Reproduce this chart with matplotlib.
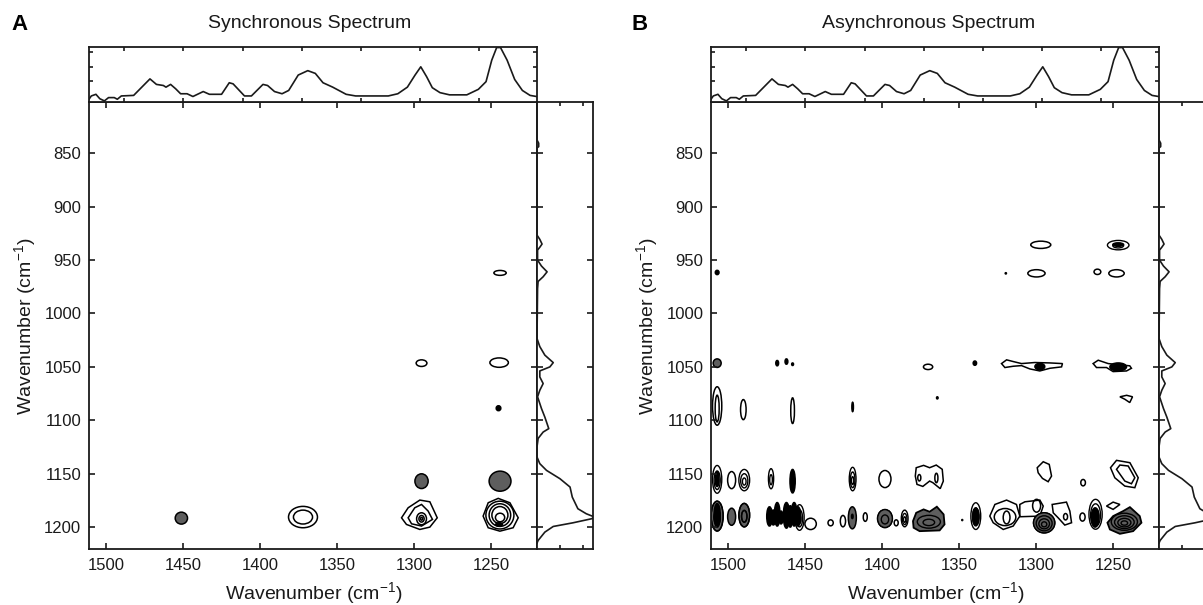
"""
2D correlation spectra: synchronous (A) and asynchronous (B).
"""
import matplotlib
matplotlib.use('Agg')
import matplotlib.pyplot as plt
from matplotlib.patches import Ellipse

plt.rcParams['font.family'] = ['Liberation Sans', 'DejaVu Sans']
plt.rcParams['mathtext.default'] = 'regular'

W, H = 1203, 605
INK = '#1a1a1a'
GRAY = '#5e5e5e'

# Mean spectrum shown on the top strip
top_wn = [1511, 1509.5, 1506.5, 1504, 1501, 1498.3, 1494.6, 1492.6, 1490, 1482, 1476, 1471.4,
          1467.2, 1462.7, 1461, 1458, 1454.7, 1451.5, 1447.3, 1443.5, 1436.8, 1432.8, 1424.9,
          1419.9, 1417.4, 1410, 1405.5, 1398, 1395, 1390.5, 1385.6, 1381.3, 1375.1, 1368.9,
          1364, 1359, 1352.7, 1344, 1337.8, 1316.6, 1310.4, 1304.2, 1299.2, 1295.5, 1291.7,
          1288, 1283, 1276.8, 1265.6, 1258.1, 1253.1, 1249.4, 1246.2, 1243.7, 1239.4, 1234.5,
          1229.5, 1224.5, 1220.3]
top_int = [.05, .11, .14, .06, .02, .08, .08, .05, .11, .12, .29, .42,
           .32, .30, .27, .32, .24, .15, .15, .10, .19, .14, .14,
           .35, .33, .11, .11, .32, .30, .19, .15, .21, .49, .57,
           .52, .35, .27, .14, .11, .11, .15, .27, .49, .64, .46,
           .26, .17, .13, .13, .23, .37, .76, .99, .99, .76, .41,
           .21, .12, .10]

# Spectrum shown on the right strip
side_wn = [802, 837.5, 840.6, 843.8, 845, 926.6, 930.6, 935, 938, 940.6, 950, 955.6, 961, 965.6,
           970, 976.6, 1023.4, 1031, 1039, 1046, 1050, 1053.8, 1059.4, 1065.6, 1071.9, 1078,
           1089, 1097, 1107.8, 1111, 1117, 1125, 1134.4, 1140.6, 1146.9, 1154.7, 1162.5, 1171.9,
           1182.8, 1187.5, 1190, 1192, 1196, 1199.4, 1204.7, 1212.5, 1215]
side_int = [0, 0, .03, .03, 0, 0, .05, .09, .05, .01, .01, .08, .18, .11,
            .02, .01, 0, .05, .14, .29, .23, .05, .05, .11, .05, .01,
            .08, .14, .21, .11, .02, 0, 0, .05, .17, .41, .59, .63,
            .73, .88, 1.0, .99, .64, .29, .14, .02, 0]

# Contour peaks: (x wavenumber, y wavenumber, half width, half height)
a_open = [(1295, 1046.5, 3.5, 3.1), (1244.6, 1046, 6, 4.4), (1244, 962, 4, 2.3),
          (1372, 1190.6, 9.4, 10), (1372, 1190.6, 6.2, 6.5),
          (1295, 1192.2, 3.2, 5.6), (1295, 1192.2, 1.7, 3.1), (1295, 1192.2, .7, 1.3),
          (1244.1, 1188.75, 9.1, 13), (1244.1, 1188.75, 7, 10.6), (1244.1, 1188.75, 5.2, 8)]
a_gray = [(1295, 1157, 4.3, 6.9), (1244, 1157, 7.1, 9.4), (1451, 1191.6, 4, 5.6)]
a_black = [(1245, 1088.7, 1.5, 2.3), (1244.6, 1197.5, 2.2, 1.6)]
a_white = [(1244, 1191, 3, 4)]
a_poly = [
    ([1308, 1303.7, 1296.1, 1289.6, 1284.8, 1289.6, 1296.1, 1304.8],
     [1191.3, 1181.9, 1174.7, 1176.3, 1191.3, 1200, 1202.2, 1197.5]),
    ([1303.7, 1299.4, 1295, 1290.7, 1287.9, 1295, 1301.5],
     [1191.3, 1181.9, 1178.8, 1185, 1192.8, 1199, 1196.9]),
    ([1255, 1251.7, 1245.2, 1237.6, 1232.2, 1235.5, 1244.1, 1251.7],
     [1189.7, 1177.2, 1173.1, 1177.2, 1191.3, 1200.6, 1203.8, 1200.6]),
]

b_open = [(1370, 1050, 3, 2.5), (1507, 1086.6, 3, 18), (1507, 1089, 1.3, 12.5),
          (1490, 1090, 1.8, 9.4), (1458, 1091, 1.2, 12), (1497.6, 1156, 2.6, 8),
          (1398, 1155, 3.9, 8), (1375.7, 1153.8, 1, 3), (1364.6, 1154, 1, 4.4),
          (1446.3, 1197, 3.7, 5.3), (1433.3, 1196, 1.7, 2.8), (1425.3, 1194.4, 1.7, 5.3),
          (1410.8, 1190.6, 1.3, 4), (1390.7, 1196, 1.3, 2.8), (1296.8, 935.7, 6.5, 3.4),
          (1299.6, 962.4, 5.6, 3.4), (1260, 961, 2.2, 2.5), (1247.6, 962.4, 5, 3.4),
          (1320, 1190.6, 7, 8), (1319, 1191, 2.2, 6), (1280.7, 1190.3, 1.3, 3),
          (1269.3, 1158.4, 1.5, 3), (1269.7, 1190.6, 1.7, 3.8), (1299.5, 1180, 2.6, 6)]
b_gray = [(1507, 1046.5, 2.6, 4), (1497.6, 1190.3, 2.6, 8), (1419.2, 1191.3, 2.6, 10.3),
          (1398, 1192, 4.8, 8.4), (1294.6, 1196, 6.9, 9.4)]
b_black = [(1468, 1046.5, .9, 2.5), (1462, 1045, .9, 2.5), (1458, 1047.5, .6, 1.2),
           (1364, 1079, .5, 1), (1419, 1087.5, .5, 4.4), (1507, 961.6, 1.2, 2),
           (1458, 1157, 1.7, 11), (1339.6, 1046.5, 1.1, 2), (1347.8, 1193.4, .3, .5),
           (1297.4, 1049.7, 3.2, 3), (1246.5, 1050, 5.4, 3.7), (1246.5, 935.5, 3.5, 1.6),
           (1319.5, 962.4, .4, .6), (1473, 1190, 1.8, 9), (1470.5, 1191, 1.6, 7), (1468, 1188, 1.8, 11),
           (1465.5, 1191, 1.4, 6), (1462, 1189, 2, 12), (1459.5, 1190, 1.6, 10), (1457, 1188, 1.8, 11),
           (1454.5, 1190, 1.8, 9), (1261.5, 1191, 2.5, 9), (1339, 1190, 2, 8), (1507, 1155, 1.2, 7),
           (1507, 1189, 2, 11), (1419.2, 1190, .5, 2)]
# (x, y, half width, half height, number of rings)
b_rings = [(1507, 1155.3, 3, 13, 3), (1489.4, 1156, 3.5, 10, 3), (1472, 1154.7, 1.7, 9.4, 2),
           (1419, 1155, 2.2, 11, 3), (1507, 1189.7, 3.9, 14, 2), (1489.4, 1188.8, 3.5, 11, 2),
           (1453.5, 1191, 3, 12, 3), (1385.2, 1191.9, 2.2, 7.8, 3), (1339, 1189.7, 3.2, 12.5, 3),
           (1261.2, 1188, 4.3, 14, 4), (1246.5, 936, 7, 4.4, 2)]
b_dark = [(1369.5, 1195, 7.5, 6, 2), (1242.5, 1195, 8.5, 8, 4), (1294.6, 1196, 6.9, 9.4, 4),
          (1398, 1192, 4.8, 8.4, 2), (1489.4, 1188.8, 3.5, 11, 2), (1507, 1189.7, 3.9, 14, 2)]
b_dark_poly = [
    ([1379.8, 1377.7, 1372.9, 1369, 1364.3, 1359.9, 1359.3, 1362.5, 1375.5, 1379.4],
     [1194.4, 1186.6, 1183.4, 1185.6, 1180.9, 1188.1, 1197.5, 1203.1, 1203.8, 1200.6]),
    ([1253.5, 1249.8, 1243.3, 1238.9, 1232.5, 1231.4, 1236.8, 1245.4, 1251.9],
     [1195.9, 1189.7, 1185, 1181.3, 1189.7, 1195.9, 1203.8, 1206.3, 1202.2]),
]

# Irregular contours in B: x and y wavenumbers
b_poly = [
    ([1377.7, 1372.9, 1369, 1364.7, 1360.8, 1360.1, 1362.1, 1366.9, 1369, 1373.4, 1377.2, 1378.3],
     [1144.4, 1142.2, 1144.4, 1141.9, 1145.9, 1156.9, 1164, 1158.4, 1156.9, 1161.9, 1160, 1152.2]),
    ([1322.3, 1319, 1314.7, 1309.3, 1300.6, 1290.9, 1282.7, 1283.3, 1290.9, 1297.4, 1303.9, 1309.3, 1314.7, 1320.1],
     [1046.9, 1043.4, 1045, 1046.9, 1045.9, 1046.3, 1046.9, 1050, 1051.3, 1053.8, 1051.9, 1048.8, 1049.4, 1050.6]),
    ([1262.8, 1259.5, 1253, 1239, 1237.9, 1241.1, 1249.8, 1254.1, 1260.6],
     [1046.9, 1043.75, 1046.9, 1049, 1051.3, 1053.8, 1054.4, 1050.6, 1050.6]),
    ([1245.4, 1241, 1237.2, 1239, 1242.2],
     [1078, 1076.6, 1078, 1083.4, 1080.3]),
    ([1299.1, 1295.2, 1291.3, 1289.8, 1292, 1295.7, 1298.5],
     [1144.4, 1138.8, 1141.3, 1152.2, 1157.5, 1154.4, 1149.1]),
    ([1251.5, 1247.6, 1238.9, 1233.5, 1235.7, 1242.2, 1248.7],
     [1144.4, 1137.5, 1139.7, 1153.8, 1163.1, 1161.6, 1153.8]),
    ([1247.6, 1245.4, 1240, 1235.7, 1237.9, 1242.2],
     [1145.9, 1141.9, 1142.8, 1153.8, 1159.4, 1156.9]),
    ([1329.9, 1326.6, 1319, 1312.6, 1310.4, 1314.7, 1321.2, 1327.7],
     [1189.7, 1178.8, 1174.7, 1178.8, 1189.7, 1199, 1202.2, 1195.9]),
    ([1310.4, 1307.1, 1297.4, 1295.2, 1297.4, 1310.4],
     [1178.8, 1176.3, 1174.7, 1180.3, 1189.7, 1190.3]),
    ([1289.4, 1280.1, 1277.9, 1276.8, 1281.2, 1285.5, 1288.7],
     [1178.8, 1176.6, 1185, 1195.9, 1198.1, 1191.3, 1186.6]),
    ([1254.1, 1249.8, 1245.4, 1249.8],
     [1180.3, 1176.6, 1178.8, 1183.4]),
]

x_ticks = [1500, 1450, 1400, 1350, 1300, 1250]
y_ticks = [850, 900, 950, 1000, 1050, 1100, 1150, 1200]
strip_x_ticks = [1488.4, 1449.8, 1411, 1372.6, 1334, 1296, 1257.6]
strip_y_ticks = [.375, .64, .91]
side_ticks = [.41, .83]


def make_axes(fig, left, top, right, bottom):
    # pixel box to figure fractions
    ax = fig.add_axes([left / W, 1 - bottom / H, (right - left) / W, (bottom - top) / H])
    for s in ax.spines.values():
        s.set_linewidth(1.3)
        s.set_color(INK)
    return ax


def draw_peaks(ax, peaks, face, lw=1.1):
    for x, y, wx, wy in peaks:
        ax.add_patch(Ellipse((x, y), 2 * wx, 2 * wy, facecolor=face, edgecolor='black', linewidth=lw))


def draw_rings(ax, peaks, face='none'):
    for x, y, wx, wy, n in peaks:
        for i in range(n):
            k = 1 - i / n
            # inner rings sit a little lower, like the real contours
            ax.add_patch(Ellipse((x, y + (1 - k) * wy * .2), 2 * wx * k, 2 * wy * k,
                                 facecolor=face, edgecolor='black', linewidth=1.0))


def panel(fig, x0, letter, letter_x, title, title_x, ylabel_x, draw):
    x1 = x0 + 448
    top, mid, bot = 47, 102, 549

    ax = make_axes(fig, x0, mid, x1, bot)
    ax.set_xlim(1511, 1220)
    ax.set_ylim(1220.5, 802)
    ax.set_xticks(x_ticks)
    ax.set_yticks(y_ticks)
    ax.tick_params(direction='in', top=True, right=True, length=4.5, width=1.2, color=INK,
                   labelsize=12, labelcolor=INK)
    ax.tick_params(axis='x', pad=6.5)
    ax.tick_params(axis='y', pad=5.5)
    draw(ax)

    ax_top = make_axes(fig, x0, top, x1, mid)
    ax_top.plot(top_wn, top_int, color=INK, lw=1.2)
    ax_top.set_xlim(1511, 1220)
    ax_top.set_ylim(0, 1)
    ax_top.set_xticks(strip_x_ticks)
    ax_top.set_yticks(strip_y_ticks)
    ax_top.tick_params(direction='in', top=True, right=True, length=2.8, width=1.2, color=INK,
                       labelbottom=False, labelleft=False)

    ax_side = make_axes(fig, x1, mid, x1 + 56, bot)
    ax_side.plot(side_int, side_wn, color=INK, lw=1.2)
    ax_side.set_xlim(0, 1)
    ax_side.set_ylim(1220.5, 802)
    ax_side.set_xticks(side_ticks)
    ax_side.set_yticks(y_ticks)
    ax_side.tick_params(axis='x', direction='in', top=True, length=2.8, width=1.2, color=INK,
                        labelbottom=False)
    ax_side.tick_params(axis='y', direction='in', right=True, length=4.5, width=1.2, color=INK,
                        labelleft=False)

    fig.text(letter_x / W, 1 - 25 / H, letter, fontsize=16, fontweight='bold', color='black', va='center', ha='center')
    fig.text(title_x / W, 1 - 24 / H, title, fontsize=14, color=INK, va='center', ha='center')
    fig.text((x0 + 225) / W, 1 - 593 / H, 'Wavenumber (cm$^{-1}$)', fontsize=14, color=INK,
             va='center', ha='center')
    fig.text(ylabel_x / W, 1 - 326 / H, 'Wavenumber (cm$^{-1}$)', fontsize=14, color=INK,
             rotation=90, va='center', ha='center')


def draw_a(ax):
    for xs, ys in a_poly:
        ax.fill(xs, ys, facecolor='none', edgecolor='black', linewidth=1.1)
    draw_peaks(ax, a_open, 'none')
    draw_peaks(ax, a_gray, GRAY)
    draw_peaks(ax, a_black, 'black')
    draw_peaks(ax, a_white, 'white')


def draw_b(ax):
    for xs, ys in b_poly:
        ax.fill(xs, ys, facecolor='none', edgecolor='black', linewidth=1.1)
    for xs, ys in b_dark_poly:
        ax.fill(xs, ys, facecolor=GRAY, edgecolor='black', linewidth=1.3)
    draw_peaks(ax, b_open, 'none')
    draw_peaks(ax, b_gray, GRAY)
    draw_rings(ax, b_dark, GRAY)
    draw_rings(ax, b_rings)
    draw_peaks(ax, b_black, 'black')


fig = plt.figure(figsize=(W / 100, H / 100), dpi=100)
panel(fig, 89, 'A', 20, 'Synchronous Spectrum', 310, 25, draw_a)
panel(fig, 711, 'B', 640, 'Asynchronous Spectrum', 929, 647, draw_b)
fig.savefig('out.png', dpi=100)
plt.close(fig)
